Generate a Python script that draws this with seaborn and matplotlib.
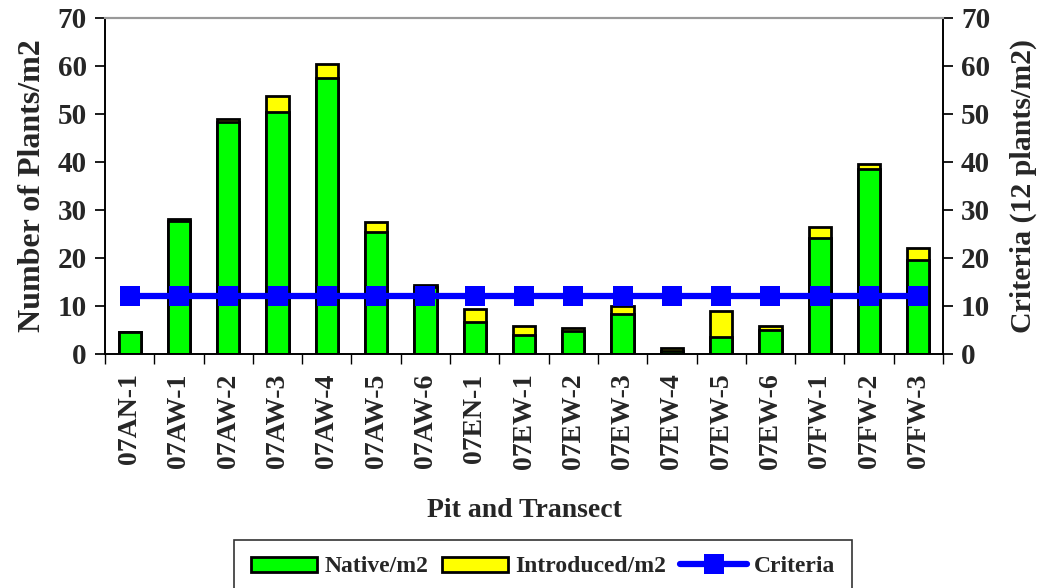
import numpy as np
import pandas as pd
import matplotlib
matplotlib.use("Agg")
import matplotlib.pyplot as plt
import seaborn as sns
from matplotlib.patches import Patch
from matplotlib.lines import Line2D

categories = ["07AN-1", "07AW-1", "07AW-2", "07AW-3", "07AW-4", "07AW-5", "07AW-6",
              "07EN-1", "07EW-1", "07EW-2", "07EW-3", "07EW-4", "07EW-5", "07EW-6",
              "07FW-1", "07FW-2", "07FW-3"]
native = [4.5, 27.7, 48.3, 50.5, 57.4, 25.4, 13.9, 6.6, 3.9, 4.85, 8.4, 0.7, 3.5, 4.9, 24.2, 38.5, 19.6]
introduced = [0.0, 0.5, 0.6, 3.3, 3.1, 2.0, 0.4, 2.8, 1.9, 0.5, 1.5, 0.6, 5.4, 0.85, 2.2, 1.0, 2.4]
criteria = [12] * len(categories)
yticks = [0, 10, 20, 30, 40, 50, 60, 70]

sns.set_theme(style="white")
plt.rcParams['font.family'] = ['Liberation Serif', 'DejaVu Serif']
plt.rcParams['font.weight'] = 'bold'

df = pd.DataFrame({"cat": categories, "native": native,
                   "total": np.array(native) + np.array(introduced)})

fig = plt.figure(figsize=(10.42, 5.88), dpi=100)
ax = fig.add_axes([105/1042, 1-354/588, (943-105)/1042, (354-18)/588])

sns.barplot(data=df, x="cat", y="total", color="#FFFF00", saturation=1,
            edgecolor="black", linewidth=2, width=0.45, ax=ax)
sns.barplot(data=df, x="cat", y="native", color="#00FF00", saturation=1,
            edgecolor="black", linewidth=2, width=0.45, ax=ax)

ax2 = ax.twinx()
sns.lineplot(x=np.arange(len(categories)), y=criteria, ax=ax2, color="#0000FF",
             linewidth=4.5, marker="s", markersize=14.5, markeredgewidth=0)
ax2.set_ylim(0, 70)
ax.set_ylim(0, 70)
ax.set_xlim(-0.5, len(categories) - 0.5)
ax2.set_xlim(-0.5, len(categories) - 0.5)

ax.set_yticks(yticks)
ax.set_yticklabels([str(v) for v in yticks], fontsize=21, fontweight='bold')
ax2.set_yticks(yticks)
ax2.set_yticklabels([str(v) for v in yticks], fontsize=21, fontweight='bold')
ax.set_xticks(np.arange(len(categories)))
ax.set_xticklabels(categories, rotation=90, fontsize=20, fontweight='bold')
ax.tick_params(axis='x', length=0, pad=14)
ax.set_xticks(np.arange(len(categories) + 1) - 0.5, minor=True)
ax.tick_params(axis='x', which='minor', length=7, direction='out', bottom=True, color='black')
ax.tick_params(axis='y', length=7, direction='out', left=True, color='black', pad=6)
ax2.tick_params(axis='y', length=7, direction='out', right=True, color='black', pad=6)

ax.set_xlabel("Pit and Transect", fontsize=20, fontweight='bold', labelpad=21)
ax.set_ylabel("Number of Plants/m2", fontsize=23, fontweight='bold', labelpad=8)
ax2.set_ylabel("Criteria (12 plants/m2)", fontsize=21.5, fontweight='bold', labelpad=14)

for a in (ax, ax2):
    for s in ("left", "right", "bottom"):
        a.spines[s].set_color("black")
        a.spines[s].set_linewidth(1.2)
    a.spines["top"].set_color("#999999")
    a.spines["top"].set_linewidth(1.5)

handles = [Patch(facecolor="#00FF00", edgecolor="black", linewidth=2),
           Patch(facecolor="#FFFF00", edgecolor="black", linewidth=2),
           Line2D([0], [0], color="#0000FF", linewidth=4.5, marker="s", markersize=14.5, markeredgewidth=0)]
leg = fig.legend(handles, ["Native/m2", "Introduced/m2", "Criteria"], ncol=3,
                 loc="lower center", bbox_to_anchor=(543/1042, -0.01),
                 prop={'size': 17, 'weight': 'bold'}, frameon=True, fancybox=False,
                 handlelength=2.8, handleheight=0.6, handletextpad=0.3, columnspacing=0.6,
                 borderpad=0.7, borderaxespad=0.0)
leg.get_frame().set_edgecolor("black")
leg.get_frame().set_linewidth(1.2)

fig.savefig("out.png", dpi=100)
